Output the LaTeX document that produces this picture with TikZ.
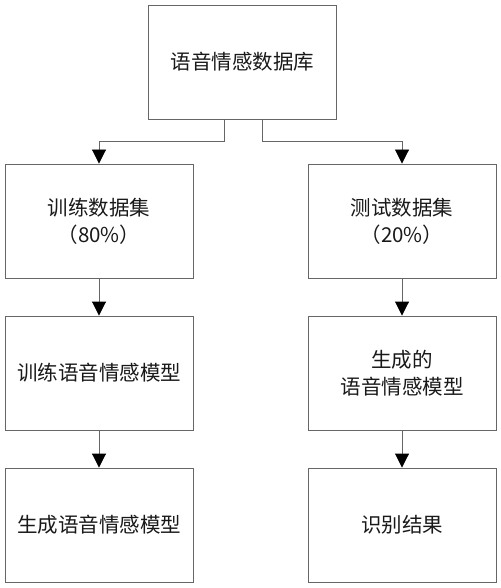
\documentclass[tikz,border=0pt]{standalone}
\usepackage{fontspec}
\newfontfamily\cjk{Noto Sans CJK SC}
\usetikzlibrary{arrows.meta}

\begin{document}
\begin{tikzpicture}[x=1pt,y=1pt]
\useasboundingbox (0,0) rectangle (500,-588);
\tikzset{box/.style={draw=black!60, line width=0.9pt, minimum width=188pt, minimum height=114pt, inner sep=0pt, align=center, font=\cjk\fontsize{20.5}{27}\selectfont, text=black!90},
arr/.style={draw=black!60, line width=0.9pt, -{Triangle[width=14pt,length=14pt,color=black]}}}

\node [box] (db) at (242.5,-62) {语音情感数据库};
\node [box] (train) at (99,-221) {训练数据集\\（80\%）};
\node [box] (test) at (402,-221) {测试数据集\\（20\%）};
\node [box] (trainmod) at (99,-373) {训练语音情感模型};
\node [box] (genmod) at (402,-373) {生成的\\语音情感模型};
\node [box] (outmod) at (99,-525) {生成语音情感模型};
\node [box] (result) at (402,-525) {识别结果};

\draw [arr] ([xshift=-18.5pt]db.south) -- ++(0,-22) -| (train.north);
\draw [arr] ([xshift=19.5pt]db.south) -- ++(0,-22) -| (test.north);
\draw [arr] (train) -- (trainmod);
\draw [arr] (trainmod) -- (outmod);
\draw [arr] (test) -- (genmod);
\draw [arr] (genmod) -- (result);

\end{tikzpicture}
\end{document}
